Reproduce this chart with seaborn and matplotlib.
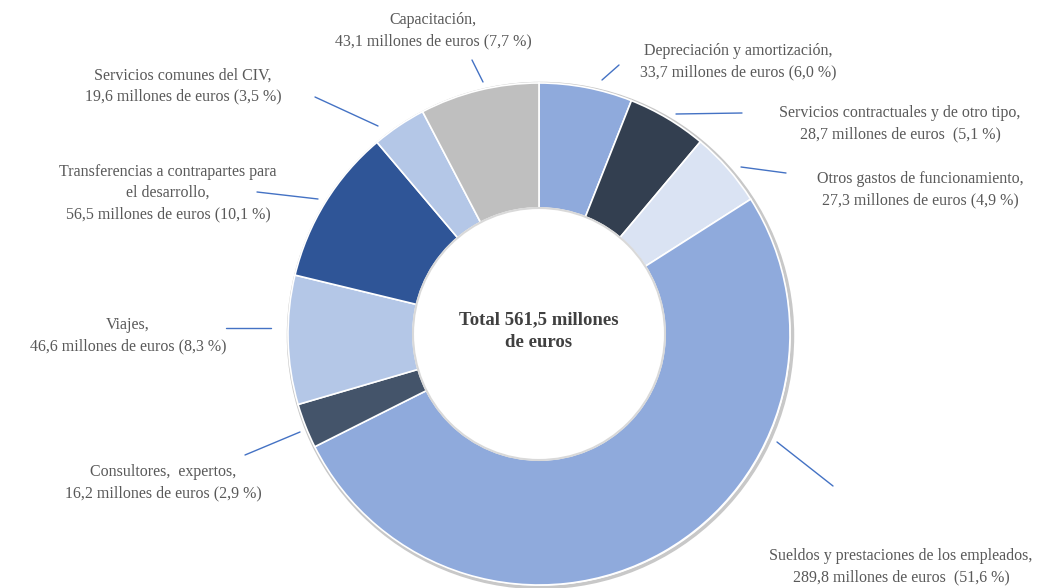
import matplotlib
matplotlib.use("Agg")
import matplotlib.pyplot as plt
import seaborn as sns
from matplotlib.patches import Circle

sns.set_theme(style="white")
plt.rcParams['font.family'] = ['Liberation Serif', 'DejaVu Serif']

# datos (millones de euros), en el orden de las porciones, desde arriba y en sentido horario
names = ["Depreciación y amortización",
         "Servicios contractuales y de otro tipo",
         "Otros gastos de funcionamiento",
         "Sueldos y prestaciones de los empleados",
         "Consultores,  expertos",
         "Viajes",
         "Transferencias a contrapartes para\nel desarrollo",
         "Servicios comunes del CIV",
         "Capacitación"]
values = [33.7, 28.7, 27.3, 289.8, 16.2, 46.6, 56.5, 19.6, 43.1]
pcts = [6.0, 5.1, 4.9, 51.6, 2.9, 8.3, 10.1, 3.5, 7.7]
total = 561.5

colors = ["#8FAADC", "#333F50", "#DAE3F3", "#8FAADC", "#44546A",
          "#B4C7E7", "#2F5597", "#B4C7E7", "#BFBFBF"]

W, H = 1059, 588
CX, CY, R = 539, 334, 251

def fy(y):
    return H - y

def num(v):
    return f"{v:.1f}".replace(".", ",")

# posiciones de etiquetas (px, origen arriba) y líneas guía
label_pos = [(738, 62), (900, 124), (920, 190), (901, 567), (163, 483),
             (128, 336), (168, 193), (183, 86), (433, 31)]
leaders = [((602, 80), (619, 65)), ((676, 114), (742, 113)),
           ((741, 167), (786, 173)), ((777, 442), (833, 486)),
           ((245, 455), (300, 432)), ((226, 328), (271, 328)),
           ((257, 192), (318, 199)), ((315, 97), (378, 126)),
           ((472, 60), (483, 82))]

fig = plt.figure(figsize=(W / 100, H / 100), dpi=100)
ax = fig.add_axes([0, 0, 1, 1])

# sombra suave del borde exterior
ax.add_patch(Circle((CX + 1.5, fy(CY) - 1.5), R + 1, facecolor="none",
                    edgecolor="#C8C8C8", linewidth=2.5, zorder=0))

ax.pie(values, colors=colors, startangle=90, counterclock=False,
       radius=R, center=(CX, fy(CY)),
       wedgeprops=dict(width=125, edgecolor="white", linewidth=1.2))

ax.add_patch(Circle((CX, fy(CY)), R - 125, facecolor="none",
                    edgecolor="#D9D9D9", linewidth=1.5, zorder=3))

ax.set_xlim(0, W)
ax.set_ylim(0, H)
ax.set_aspect("equal")
ax.axis("off")

for i, name in enumerate(names):
    sep = "  " if i in (1, 3) else " "
    txt = f"{name},\n{num(values[i])} millones de euros{sep}({num(pcts[i])} %)"
    x, y = label_pos[i]
    ax.text(x, fy(y), txt, ha="center", va="center", fontsize=11.5,
            color="#595959", linespacing=1.42)
    (x0, y0), (x1, y1) = leaders[i]
    ax.plot([x0, x1], [fy(y0), fy(y1)], color="#4472C4", linewidth=1.0)

ax.text(CX, fy(CY - 3), f"Total {num(total)} millones\nde euros", ha="center",
        va="center", fontsize=13.5, fontweight="bold", color="#404040",
        linespacing=1.45)

fig.savefig("out.png", dpi=100)
